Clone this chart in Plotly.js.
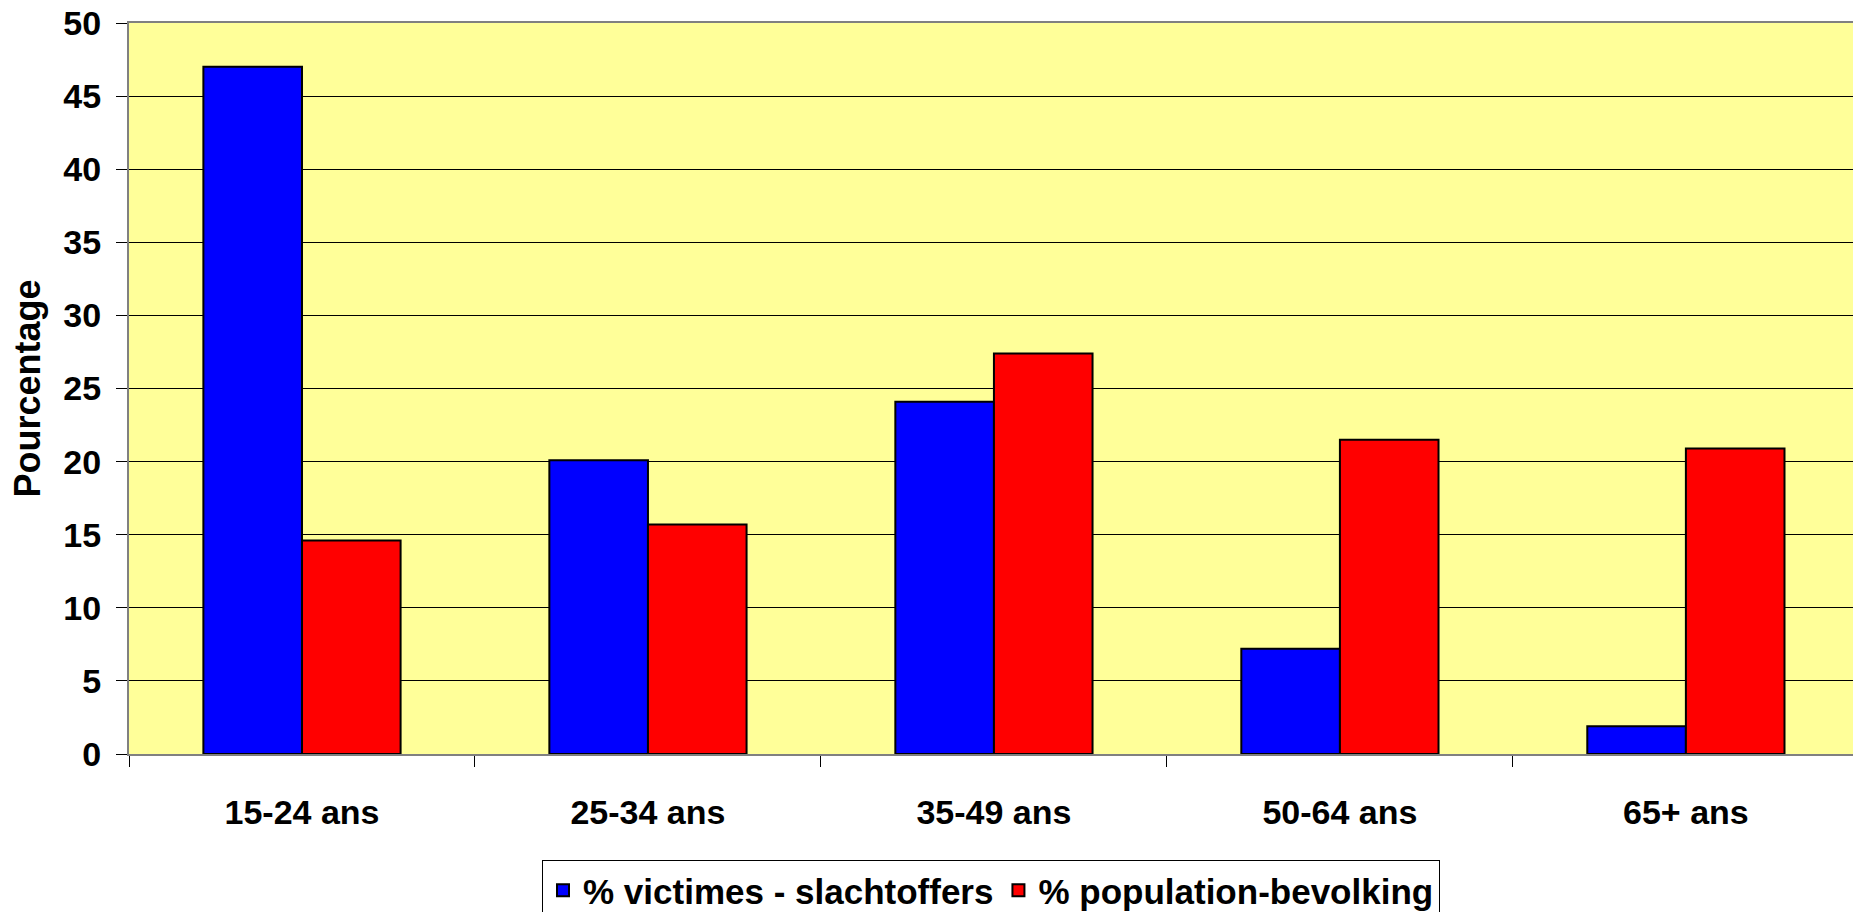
<!DOCTYPE html>
<html>
<head>
<meta charset="utf-8">
<script src="https://cdn.plot.ly/plotly-3.0.1.min.js"></script>
<style>
html,body{margin:0;padding:0;background:#fff;}
#chart{width:1853px;height:912px;}
</style>
</head>
<body>
<div id="chart"></div>
<script>
const categories = ["15-24 ans", "25-34 ans", "35-49 ans", "50-64 ans", "65+ ans"];
const victimes = [47.0, 20.1, 24.1, 7.2, 1.9];
const population = [14.6, 15.7, 27.4, 21.5, 20.9];
const seriesNames = ["% victimes - slachtoffers", "% population-bevolking"];
const yTitle = "Pourcentage";

const FONT = "Liberation Sans, Arial, Helvetica, sans-serif";

const traces = [
  {
    type: "bar", x: categories, y: victimes, name: seriesNames[0],
    marker: {color: "#0000FF", line: {color: "#000000", width: 2}},
    hoverinfo: "none"
  },
  {
    type: "bar", x: categories, y: population, name: seriesNames[1],
    marker: {color: "#FF0000", line: {color: "#000000", width: 2}},
    hoverinfo: "none"
  }
];

const layout = {
  width: 1853, height: 912,
  margin: {l: 129, r: 0, t: 23, b: 158, pad: 0, autoexpand: false},
  paper_bgcolor: "#FFFFFF",
  plot_bgcolor: "#FFFF99",
  barmode: "group",
  bargap: 0.43,
  bargroupgap: 0,
  font: {family: FONT, size: 34, color: "#000000", weight: "bold"},
  showlegend: true,
  legend: {
    orientation: "h",
    x: 0.5, xanchor: "center",
    y: -0.145, yanchor: "top",
    bgcolor: "#FFFFFF",
    bordercolor: "#000000", borderwidth: 1,
    font: {family: FONT, size: 35, color: "#000000", weight: "bold"},
    itemwidth: 30,
    tracegroupgap: 0
  },
  xaxis: {
    type: "category",
    range: [-0.5, 4.483],
    tickson: "boundaries",
    ticks: "outside", ticklen: 11, tickwidth: 1, tickcolor: "#000000",
    showline: true, linecolor: "#808080", linewidth: 2, mirror: true,
    showgrid: false, zeroline: false,
    tickfont: {family: FONT, size: 34, color: "#000000", weight: "bold"},
    ticklabelstandoff: 27,
    fixedrange: true
  },
  yaxis: {
    range: [0, 50],
    dtick: 5, tick0: 0,
    ticks: "outside", ticklen: 11, tickwidth: 1, tickcolor: "#000000",
    showline: true, linecolor: "#808080", linewidth: 2,
    showgrid: true, gridcolor: "#000000", gridwidth: 1,
    zeroline: false,
    tickfont: {family: FONT, size: 34, color: "#000000", weight: "bold"},
    ticklabelstandoff: 8,
    title: {text: yTitle, font: {family: FONT, size: 36, color: "#000000", weight: "bold"}, standoff: 12},
    fixedrange: true
  }
};

Plotly.newPlot("chart", traces, layout, {displayModeBar: false, staticPlot: true});
</script>
</body>
</html>
